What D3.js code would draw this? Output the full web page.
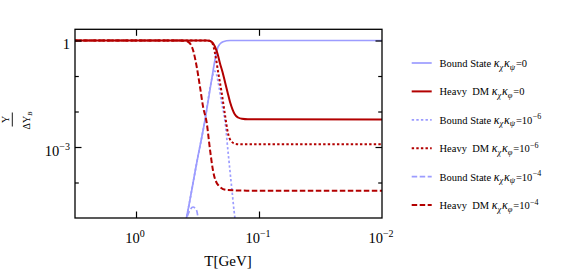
<!DOCTYPE html>
<html><head><meta charset="utf-8">
<script src="https://cdn.jsdelivr.net/npm/d3@7"></script>
<style>html,body{margin:0;padding:0;background:#fff}svg{display:block}</style>
</head><body><svg id="c" width="581" height="273"></svg>
<script>
// ---- data (T in GeV, Y/ΔY_B) ----
const T_bs0   = [0.415, 0.387, 0.321, 0.275, 0.243, 0.228, 0.215, 0.196, 0.172, 0.01];
const Y_bs0   = [3.5e-6, 1.09e-5, 3.54e-4, 5.77e-3, 0.077, 0.282, 0.668, 0.925, 1, 1];
const T_hdm0  = [3.13, 0.30, 0.265, 0.25, 0.237, 0.228, 0.217, 0.208, 0.198, 0.189, 0.180, 0.172, 0.164, 0.157, 0.148, 0.1375, 0.123, 0.01];
const Y_hdm0  = [1, 1, 1, 0.968, 0.85, 0.668, 0.417, 0.232, 0.130, 0.0678, 0.0343, 0.0185, 0.01138, 0.00823, 0.00678, 0.00623, 0.00603, 0.006];
const T_bs6   = [0.415, 0.387, 0.321, 0.275, 0.25, 0.239, 0.230, 0.222, 0.214, 0.201, 0.189, 0.178, 0.167, 0.157, 0.149];
const Y_bs6   = [3.5e-6, 1.09e-5, 3.54e-4, 5.77e-3, 0.046, 0.1, 0.138, 0.114, 0.0623, 0.0173, 0.00534, 6.6e-4, 7.6e-5, 1e-5, 3.4e-6];
const T_hdm6  = [3.13, 0.30, 0.26, 0.2455, 0.237, 0.228, 0.215, 0.201, 0.189, 0.179, 0.169, 0.154, 0.1375, 0.01];
const Y_hdm6  = [1, 1, 1, 0.937, 0.771, 0.445, 0.130, 0.0332, 0.0080, 0.0025, 0.00148, 0.00122, 0.00119, 0.00119];
const T_bs4   = [0.400, 0.387, 0.364, 0.344, 0.321, 0.313, 0.308];
const Y_bs4   = [6.8e-6, 1e-5, 1.68e-5, 2.04e-5, 1.61e-5, 1e-5, 6.8e-6];
const T_hdm4  = [3.13, 0.439, 0.415, 0.378, 0.344, 0.321, 0.302, 0.285, 0.266, 0.25, 0.237, 0.215, 0.183, 0.126, 0.01];
const Y_hdm4  = [1, 1, 0.99, 0.925, 0.54, 0.183, 0.05, 0.0137, 0.00474, 8.2e-4, 2.25e-4, 8.5e-5, 6.15e-5, 5.9e-5, 5.9e-5];

const xTickVals = [1, 0.1, 0.01];
const xTickExps = ["0", "\u22121", "\u22122"];
const yMajor = [1, 1e-3];
const yMinor = [0.1, 0.01, 1e-4];
const yTickLabels = [["1", ""], ["10", "\u22123"]];

const legendNames = ["Bound State", "Heavy\u2002DM", "Bound State", "Heavy\u2002DM", "Bound State", "Heavy\u2002DM"];
const legendSub2  = ["\u03c8", "\u03c6", "\u03c8", "\u03c6", "\u03c8", "\u03c6"];
const legendVal   = [["0",""], ["0",""], ["10","\u22126"], ["10","\u22126"], ["10","\u22124"], ["10","\u22124"]];

const BLUE = "#9c9cff", RED = "#b30000";
const series = [
  {T: T_bs0,  Y: Y_bs0,  c: BLUE, dash: null,      w: 1.7},
  {T: T_hdm0, Y: Y_hdm0, c: RED,  dash: null,      w: 2},
  {T: T_bs6,  Y: Y_bs6,  c: BLUE, dash: "2.4,2.2", w: 1.7},
  {T: T_hdm6, Y: Y_hdm6, c: RED,  dash: "2.4,2.2", w: 2},
  {T: T_bs4,  Y: Y_bs4,  c: BLUE, dash: "5.5,2.5", w: 1.7},
  {T: T_hdm4, Y: Y_hdm4, c: RED,  dash: "5.5,2.5", w: 2}
];

// ---- layout ----
const L = 75, R = 382, Tp = 29.3, B = 218;
const FONT = "'Liberation Serif','DejaVu Serif',serif";
const svg = d3.select("#c");
const x = d3.scaleLog().domain([Math.pow(10, 0.496), 0.01]).range([L, R]);
const y = d3.scaleLog().domain([1e-5, 2.07]).range([B, Tp]);

svg.append("defs").append("clipPath").attr("id", "clip")
  .append("rect").attr("x", L).attr("y", Tp).attr("width", R - L).attr("height", B - Tp);

const line = d3.line().x(d => x(d[0])).y(d => y(d[1])).curve(d3.curveMonotoneX);
const plot = svg.append("g").attr("clip-path", "url(#clip)");
[0, 2, 4, 1, 3, 5].forEach(i => {
  const s = series[i];
  plot.append("path").datum(s.T.map((t, k) => [t, s.Y[k]]))
    .attr("d", line).attr("fill", "none").attr("stroke", s.c)
    .attr("stroke-width", s.w).attr("stroke-dasharray", s.dash);
});

// ---- axes (inward ticks) ----
function styleAxis(g) {
  g.select(".domain").remove();
  g.selectAll("line").attr("stroke", "#000").attr("stroke-width", 1.2);
  g.selectAll("text").remove();
}
svg.append("g").attr("transform", `translate(0,${B})`)
  .call(d3.axisBottom(x).tickValues(xTickVals.slice(0, 2)).tickSize(-6.5)).call(styleAxis);
svg.append("g").attr("transform", `translate(0,${Tp})`)
  .call(d3.axisTop(x).tickValues(xTickVals.slice(0, 2)).tickSize(-6.5)).call(styleAxis);
svg.append("g").attr("transform", `translate(${L},0)`)
  .call(d3.axisLeft(y).tickValues(yMajor).tickSize(-6.5)).call(styleAxis);
svg.append("g").attr("transform", `translate(${L},0)`)
  .call(d3.axisLeft(y).tickValues(yMinor).tickSize(-3.8)).call(styleAxis);
svg.append("g").attr("transform", `translate(${R},0)`)
  .call(d3.axisRight(y).tickValues(yMajor).tickSize(-6.5)).call(styleAxis);
svg.append("g").attr("transform", `translate(${R},0)`)
  .call(d3.axisRight(y).tickValues(yMinor).tickSize(-3.8)).call(styleAxis);

svg.append("rect").attr("x", L).attr("y", Tp).attr("width", R - L).attr("height", B - Tp)
  .attr("fill", "none").attr("stroke", "#000").attr("stroke-width", 1.3);

// tick labels
xTickVals.forEach((v, i) => {
  const t = svg.append("text").attr("x", x(v) - 1).attr("y", 243)
    .attr("text-anchor", "middle").attr("font-family", FONT).attr("font-size", 14.5).attr("fill", "#000");
  t.append("tspan").text("10");
  t.append("tspan").attr("dy", -6).attr("font-size", 10).text(xTickExps[i]);
});
yMajor.forEach((v, i) => {
  const t = svg.append("text").attr("x", 70).attr("y", y(v) + 8.5)
    .attr("text-anchor", "end").attr("font-family", FONT).attr("font-size", 14.5).attr("fill", "#000");
  t.append("tspan").text(yTickLabels[i][0]);
  if (yTickLabels[i][1]) t.append("tspan").attr("dy", -6).attr("font-size", 10).text(yTickLabels[i][1]);
});

// axis labels
svg.append("text").attr("x", 228).attr("y", 266).attr("text-anchor", "middle")
  .attr("font-family", FONT).attr("font-size", 15).text("T[GeV]");
const yl = svg.append("g").attr("transform", "translate(0,119.5) rotate(-90)")
  .attr("font-family", FONT).attr("fill", "#000");
yl.append("text").attr("x", 0).attr("y", 8.5).attr("text-anchor", "middle").attr("font-size", 10).text("Y");
yl.append("line").attr("x1", -7).attr("x2", 7).attr("y1", 12.3).attr("y2", 12.3).attr("stroke", "#000").attr("stroke-width", 0.9);
const dn = yl.append("text").attr("x", -1).attr("y", 29.5).attr("text-anchor", "middle").attr("font-size", 10);
dn.append("tspan").text("\u0394Y");
dn.append("tspan").attr("dy", 2.5).attr("font-size", 7).attr("font-style", "italic").text("B");

// legend
const ly0 = 63, lstep = 28.4;
series.forEach((s, i) => {
  const yy = ly0 + i * lstep;
  svg.append("line").attr("x1", 411.7).attr("x2", 431.7).attr("y1", yy).attr("y2", yy)
    .attr("stroke", s.c).attr("stroke-width", s.w).attr("stroke-dasharray", s.dash);
  const t = svg.append("text").attr("x", 439.5).attr("y", yy + 4)
    .attr("font-family", FONT).attr("font-size", 10.5).attr("fill", "#000");
  t.append("tspan").text(legendNames[i] + " ");
  t.append("tspan").attr("font-style", "italic").attr("font-size", 12).text("\u03ba");
  t.append("tspan").attr("font-style", "italic").attr("font-size", 8.5).attr("dy", 2.5).text("\u03c7");
  t.append("tspan").attr("font-style", "italic").attr("font-size", 12).attr("dx", 0.8).attr("dy", -2.5).text("\u03ba");
  t.append("tspan").attr("font-style", "italic").attr("font-size", 8.5).attr("dy", 2.5).text(legendSub2[i]);
  t.append("tspan").attr("dx", 0.8).attr("dy", -2.5).text("=" + legendVal[i][0]);
  if (legendVal[i][1]) t.append("tspan").attr("dx", 0.3).attr("dy", -4.5).attr("font-size", 8).text(legendVal[i][1]);
});
</script></body></html>
